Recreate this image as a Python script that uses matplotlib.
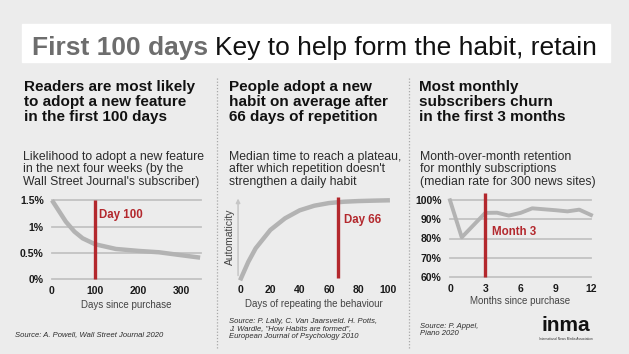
import matplotlib
matplotlib.use('Agg')
import matplotlib.pyplot as plt
from matplotlib.patches import Rectangle

plt.rcParams['font.family'] = ['Liberation Sans', 'DejaVu Sans']

# ---- data ----
adopt_days = [0, 17, 32, 52, 71, 100, 148, 202, 248, 295, 343]
adopt_rate = [1.5, 1.285, 1.095, 0.905, 0.778, 0.665, 0.576, 0.538, 0.513, 0.462, 0.411]
adopt_yticks = [0, 0.5, 1, 1.5]
adopt_ylabels = ['0%', '0.5%', '1%', '1.5%']
adopt_xticks = [0, 100, 200, 300]

habit_days = [0, 5, 10, 20, 30, 40, 50, 60, 70, 80, 90, 100]
habit_auto = [0, 0.2, 0.363, 0.585, 0.726, 0.823, 0.879, 0.911, 0.927, 0.935, 0.94, 0.944]
habit_xticks = [0, 20, 40, 60, 80, 100]

months = [0, 1, 2, 3, 4, 5, 6, 7, 8, 9, 10, 11, 12]
retention = [100, 80.6, 87, 93.4, 93.5, 92, 93.4, 95.8, 95.3, 94.8, 94.2, 95.1, 92.3]
ret_yticks = [60, 70, 80, 90, 100]
ret_ylabels = ['60%', '70%', '80%', '90%', '100%']
ret_xticks = [0, 3, 6, 9, 12]

BG = '#ececec'
GRID = '#c3c3c3'
CURVE = '#b3b3b3'
RED = '#b3282d'
TXT = '#2b2b2b'

W, H = 629, 354
fig = plt.figure(figsize=(W / 100, H / 100), dpi=100, facecolor=BG)


def fx(x):
    return x / W


def fy(y):
    return 1 - y / H


def px_axes(x0, y0, x1, y1):
    ax = fig.add_axes([fx(x0), fy(y1), (x1 - x0) / W, (y1 - y0) / H])
    ax.set_facecolor('none')
    for s in ax.spines.values():
        s.set_visible(False)
    ax.tick_params(length=0, labelsize=7.5, colors='#1a1a1a')
    return ax


# banner + title
fig.patches.append(Rectangle((fx(22), fy(61.7)), fx(610) - fx(22), (61.7 - 24.3) / H,
                             transform=fig.transFigure, color='white', zorder=0))
t1 = fig.text(fx(31.5), fy(55), 'First 100 days', fontsize=19, fontweight='bold',
              color='#6d6d6d', va='baseline')
fig.canvas.draw()
bb = t1.get_window_extent()
fig.text(bb.x1 / W + 7 / W, fy(55), 'Key to help form the habit, retain', fontsize=19,
         color='#111111', va='baseline')

# headings
headings = ['Readers are most likely\nto adopt a new feature\nin the first 100 days',
            'People adopt a new\nhabit on average after\n66 days of repetition',
            'Most monthly\nsubscribers churn\nin the first 3 months']
descs = ["Likelihood to adopt a new feature\nin the next four weeks (by the\nWall Street Journal's subscriber)",
         "Median time to reach a plateau,\nafter which repetition doesn't\nstrengthen a daily habit",
         'Month-over-month retention\nfor monthly subscriptions\n(median rate for 300 news sites)']
head_x = [24, 229, 419]
desc_x = [23, 229, 420]
for hx, dx, h, d in zip(head_x, desc_x, headings, descs):
    fig.text(fx(hx), fy(80), h, fontsize=11, fontweight='bold', color='#111111',
             va='top', linespacing=1.1)
    fig.text(fx(dx), fy(150.5), d, fontsize=8.8, color=TXT, va='top', linespacing=1.06)

# dotted dividers
for x in [216.7, 409.3]:
    fig.add_artist(plt.Line2D([fx(x), fx(x)], [fy(78), fy(348)], transform=fig.transFigure,
                              color='#a8a8a8', lw=0.9, linestyle=(0, (1, 1.5))))

# ---- panel 1 ----
ax1 = px_axes(52, 200.3, 201, 279.3)
ax1.set_xlim(0, 345)
ax1.set_ylim(0, 1.5)
for v in adopt_yticks:
    ax1.axhline(v, color=GRID, lw=1.3, zorder=1, clip_on=False)
ax1.plot(adopt_days, adopt_rate, color=CURVE, lw=3.2, solid_capstyle='butt', zorder=2, clip_on=False)
ax1.plot([100, 100], [0, 1.5], color=RED, lw=2.4, zorder=3, clip_on=False, solid_capstyle='butt')
ax1.text(109, 1.22, 'Day 100', color=RED, fontsize=8.3, fontweight='bold', va='center')
ax1.set_xticks(adopt_xticks)
ax1.set_xticklabels([str(v) for v in adopt_xticks], fontweight='bold', fontsize=7.5)
ax1.set_yticks(adopt_yticks)
ax1.set_yticklabels(adopt_ylabels, fontweight='bold', fontsize=7.5)
ax1.tick_params(axis='x', pad=5)
ax1.tick_params(axis='y', pad=6)
ax1.set_xlabel('Days since purchase', fontsize=7, color='#444444', labelpad=3)

# ---- panel 2 ----
ax2 = px_axes(241, 195.7, 387.7, 278.3)
ax2.set_xlim(0, 100)
ax2.set_ylim(0, 1)
ax2.annotate('', xy=(-0.02, 1.0), xytext=(-0.02, 0), xycoords='axes fraction',
             arrowprops=dict(arrowstyle='-|>', color='#c6c6c6', lw=1.1, mutation_scale=6))
ax2.plot(habit_days, habit_auto, color=CURVE, lw=3.2, zorder=2, clip_on=False)
ax2.plot([66, 66], [0, 0.99], color=RED, lw=2.4, zorder=3, clip_on=False, solid_capstyle='butt')
ax2.text(70.5, 0.705, 'Day 66', color=RED, fontsize=8.3, fontweight='bold', va='center')
ax2.set_xticks(habit_xticks)
ax2.set_xticklabels([str(v) for v in habit_xticks], fontweight='bold', fontsize=7.5)
ax2.set_yticks([])
ax2.tick_params(axis='x', pad=5)
ax2.set_xlabel('Days of repeating the behaviour', fontsize=7, color='#444444', labelpad=3)
ax2.set_ylabel('Automaticity', fontsize=7.5, color='#444444', labelpad=4)

# ---- panel 3 ----
ax3 = px_axes(450, 200.3, 591, 276.7)
ax3.set_xlim(0, 12)
ax3.set_ylim(60, 100)
for v in ret_yticks:
    ax3.axhline(v, color=GRID, lw=1.3, zorder=1, clip_on=False)
ax3.plot(months, retention, color=CURVE, lw=2.8, zorder=2, clip_on=False)
ax3.plot([3, 3], [60, 104], color=RED, lw=2.4, zorder=3, clip_on=False, solid_capstyle='butt')
ax3.text(3.55, 83.6, 'Month 3', color=RED, fontsize=8.3, fontweight='bold', va='center')
ax3.set_xticks(ret_xticks)
ax3.set_xticklabels([str(v) for v in ret_xticks], fontweight='bold', fontsize=7.5)
ax3.set_yticks(ret_yticks)
ax3.set_yticklabels(ret_ylabels, fontweight='bold', fontsize=7.5)
ax3.tick_params(axis='x', pad=5)
ax3.tick_params(axis='y', pad=6)
ax3.set_xlabel('Months since purchase', fontsize=7, color='#444444', labelpad=2)

# sources
fig.text(fx(15), fy(335), 'Source: A. Powell, Wall Street Journal 2020', fontsize=5.5,
         style='italic', color=TXT, va='center')
fig.text(fx(229), fy(318), 'Source: P. Lally, C. Van Jaarsveld. H. Potts,\n'
         'J. Wardle, "How Habits are formed",\nEuropean Journal of Psychology 2010',
         fontsize=5.5, style='italic', color=TXT, va='top', linespacing=1.05)
fig.text(fx(420), fy(323), 'Source: P. Appel,\nPiano 2020', fontsize=5.5, style='italic',
         color=TXT, va='top', linespacing=1.05)

# inma wordmark
fig.text(fx(566), fy(331), 'inma', fontsize=15, fontweight='bold', color='#111111',
         ha='center', va='baseline')
fig.text(fx(566), fy(336.5), 'International News Media Association', fontsize=2.3,
         color='#333333', ha='center', va='top')

fig.savefig('out.png', dpi=100, facecolor=BG)
